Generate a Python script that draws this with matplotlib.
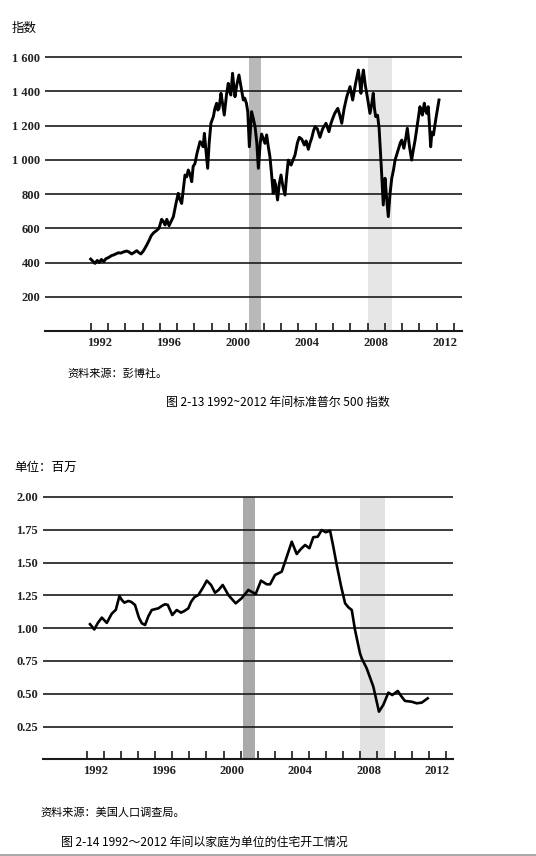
import matplotlib
matplotlib.use('Agg')
import matplotlib.pyplot as plt

CJK = ['Noto Sans CJK SC', 'DejaVu Sans']

# 图 2-13 标准普尔 500 指数
sp_years = [1992.0, 1992.12, 1992.25, 1992.38, 1992.5, 1992.62, 1992.75, 1992.88, 1993.05, 1993.2,
            1993.35, 1993.5, 1993.6, 1993.75, 1993.9, 1994.08, 1994.2, 1994.37, 1994.5, 1994.66,
            1994.78, 1994.9, 1995.05, 1995.24, 1995.38, 1995.5, 1995.65, 1995.8, 1995.95, 1996.1,
            1996.2, 1996.3, 1996.4, 1996.53, 1996.65, 1996.78, 1996.92, 1997.06, 1997.15, 1997.26,
            1997.45, 1997.55, 1997.64, 1997.74, 1997.84, 1997.92, 1998.03, 1998.15, 1998.32, 1998.42,
            1998.5, 1998.57, 1998.66, 1998.76, 1998.85, 1998.95, 1999.09, 1999.18, 1999.28, 1999.35,
            1999.42, 1999.53, 1999.62, 1999.72, 1999.85, 1999.95, 2000.03, 2000.1, 2000.2, 2000.27,
            2000.34, 2000.45, 2000.57, 2000.7, 2000.82, 2000.9, 2001.0, 2001.08, 2001.17, 2001.3,
            2001.4, 2001.5, 2001.6, 2001.69, 2001.8, 2001.88, 2001.95, 2002.07, 2002.17, 2002.26,
            2002.36, 2002.45, 2002.55, 2002.62, 2002.69, 2002.8, 2002.9, 2003.0, 2003.1, 2003.23,
            2003.32, 2003.42, 2003.5, 2003.58, 2003.7, 2003.81, 2003.95, 2004.06, 2004.2, 2004.35,
            2004.45, 2004.58, 2004.68, 2004.77, 2004.88, 2004.97, 2005.1, 2005.25, 2005.4, 2005.6,
            2005.77, 2005.88, 2005.97, 2006.1, 2006.28, 2006.4, 2006.51, 2006.65, 2006.8, 2006.99,
            2007.14, 2007.3, 2007.47, 2007.55, 2007.62, 2007.7, 2007.76, 2007.88, 2008.0, 2008.14,
            2008.25, 2008.33, 2008.4, 2008.47, 2008.58, 2008.67, 2008.8, 2008.91, 2009.01, 2009.1,
            2009.2, 2009.3, 2009.4, 2009.5, 2009.59, 2009.75, 2009.9, 2009.98, 2010.1, 2010.2,
            2010.3, 2010.42, 2010.55, 2010.65, 2010.75, 2010.9, 2011.03, 2011.1, 2011.17, 2011.28,
            2011.35, 2011.42, 2011.51, 2011.58, 2011.65, 2011.72, 2011.81, 2011.95, 2012.13]
sp_values = [420, 408, 395, 412, 400, 418, 405, 422, 430, 440,
             445, 452, 457, 455, 462, 467, 462, 450, 458, 469,
             458, 450, 468, 502, 530, 557, 575, 586, 600, 652,
             640, 619, 652, 615, 640, 668, 740, 804, 770, 745,
             911, 900, 940, 915, 872, 960, 979, 1040, 1106, 1095,
             1076, 1154, 1060, 950, 1100, 1213, 1252, 1300, 1330, 1290,
             1300, 1388, 1330, 1261, 1380, 1446, 1400, 1378, 1505, 1430,
             1368, 1440, 1495, 1420, 1349, 1360, 1330, 1280, 1076, 1281,
             1240, 1193, 1100, 950, 1100, 1150, 1130, 1096, 1145, 1080,
             1018, 920, 804, 880, 853, 765, 860, 911, 850, 794,
             900, 998, 980, 969, 1000, 1028, 1100, 1131, 1120, 1086,
             1110, 1061, 1100, 1125, 1170, 1193, 1180, 1131, 1180, 1213,
             1164, 1210, 1236, 1270, 1300, 1260, 1213, 1300, 1368, 1427,
             1349, 1440, 1524, 1460, 1388, 1480, 1524, 1430, 1360, 1271,
             1330, 1388, 1300, 1252, 1260, 1184, 950, 736, 892, 780,
             668, 800, 892, 940, 998, 1050, 1100, 1115, 1067, 1120,
             1184, 1080, 998, 1060, 1115, 1220, 1310, 1280, 1261, 1330,
             1290, 1271, 1310, 1200, 1076, 1160, 1145, 1240, 1349]

# 图 2-14 住宅开工 (百万)
hs_years = [1992.19, 1992.44, 1992.65, 1992.88, 1993.17, 1993.46, 1993.7, 1993.91, 1994.05, 1994.2,
            1994.43, 1994.6, 1994.82, 1995.05, 1995.22, 1995.41, 1995.6, 1995.8, 1996.0, 1996.19,
            1996.4, 1996.58, 1996.74, 1997.0, 1997.26, 1997.51, 1997.7, 1997.94, 1998.1, 1998.29,
            1998.53, 1998.8, 1999.02, 1999.27, 1999.5, 1999.7, 1999.95, 2000.28, 2000.5, 2000.71,
            2001.06, 2001.45, 2001.88, 2002.19, 2002.53, 2002.72, 2003.01, 2003.4, 2003.7, 2003.99,
            2004.28, 2004.5, 2004.77, 2005.02, 2005.25, 2005.51, 2005.74, 2005.98, 2006.23, 2006.42,
            2006.62, 2006.88, 2007.11, 2007.3, 2007.5, 2007.69, 2007.98, 2008.08, 2008.37, 2008.76,
            2009.09, 2009.34, 2009.64, 2009.87, 2010.19, 2010.4, 2010.61, 2011.0, 2011.3, 2011.59,
            2011.94]
hs_values = [1.03, 0.99, 1.04, 1.08, 1.04, 1.11, 1.14, 1.245, 1.215, 1.194,
             1.207, 1.20, 1.177, 1.08, 1.037, 1.024, 1.09, 1.138, 1.145, 1.151,
             1.17, 1.182, 1.177, 1.10, 1.138, 1.118, 1.13, 1.151, 1.20, 1.235,
             1.253, 1.31, 1.362, 1.329, 1.27, 1.29, 1.329, 1.253, 1.22, 1.189,
             1.228, 1.291, 1.26, 1.362, 1.334, 1.334, 1.405, 1.43, 1.545, 1.659,
             1.565, 1.60, 1.634, 1.609, 1.693, 1.697, 1.748, 1.731, 1.743, 1.62,
             1.481, 1.316, 1.189, 1.159, 1.138, 0.986, 0.808, 0.77, 0.694, 0.554,
             0.363, 0.414, 0.508, 0.49, 0.521, 0.48, 0.445, 0.439, 0.427, 0.432,
             0.465]

# 衰退期
recessions = [(2001.15, 2001.85), (2008.0, 2009.42)]

sp_ticks = [200, 400, 600, 800, 1000, 1200, 1400, 1600]
sp_ticklabels = ['200', '400', '600', '800', '1 000', '1 200', '1 400', '1 600']
hs_ticks = [0.25, 0.50, 0.75, 1.00, 1.25, 1.50, 1.75, 2.00]
hs_ticklabels = ['0.25', '0.50', '0.75', '1.00', '1.25', '1.50', '1.75', '2.00']
year_labels = ['1992', '1996', '2000', '2004', '2008', '2012']

W, H = 536, 856
fig = plt.figure(figsize=(W / 100, H / 100), dpi=100)


def px_axes(left, top, right, bottom):
    return fig.add_axes([left / W, 1 - bottom / H, (right - left) / W, (bottom - top) / H])


def px_text(x, y, s, size, ha='left'):
    fig.text(x / W, 1 - y / H, s, fontsize=size, ha=ha, va='center', family=CJK)


def style_axes(ax, ticks, ticklabels, top_val, band_colors):
    for (a, b), c in zip(recessions, band_colors):
        ax.fill_between([a, b], 0, top_val, color=c, lw=0, zorder=0)
    for t in ticks:
        ax.axhline(t, color='#1a1a1a', lw=1.2, zorder=1)
    for s in ['top', 'left', 'right']:
        ax.spines[s].set_visible(False)
    ax.spines['bottom'].set_linewidth(1.5)
    ax.spines['bottom'].set_color('#1a1a1a')
    ax.set_yticks(ticks)
    ax.set_yticklabels(ticklabels, family='Liberation Serif', fontweight='bold', fontsize=9)
    ax.tick_params(axis='y', length=0, pad=3.5, colors='#222222')
    ax.set_xticks(range(1992, 2014))
    ax.set_xticklabels([])
    ax.set_xticks([int(y) + 0.5 for y in year_labels], minor=True)
    ax.set_xticklabels(year_labels, minor=True, family='Liberation Serif',
                       fontweight='bold', fontsize=9)
    ax.tick_params(axis='x', which='major', direction='in', length=6, width=1.2, color='#1a1a1a')
    ax.tick_params(axis='x', which='minor', length=0, pad=4, labelcolor='#222222')
    ax.patch.set_alpha(0)


# 上图
ax1 = px_axes(45, 50, 462, 331)
ax1.plot(sp_years, sp_values, color='black', lw=2.1, zorder=3)
ax1.set_xlim(1989.36, 2013.46)
ax1.set_ylim(0, 1641)
style_axes(ax1, sp_ticks, sp_ticklabels, 1600, ['#b9b9b9', '#e6e6e6'])

# 下图
ax2 = px_axes(43, 490, 453, 759.3)
ax2.plot(hs_years, hs_values, color='black', lw=1.9, zorder=3)
ax2.set_xlim(1989.44, 2013.42)
ax2.set_ylim(0, 2.053)
style_axes(ax2, hs_ticks, hs_ticklabels, 2.0, ['#aaaaaa', '#e2e2e2'])

px_text(12, 28, '指数', 9)
px_text(67, 373, '资料来源：彭博社。', 8)
px_text(278, 402, '图 2-13 1992~2012 年间标准普尔 500 指数', 8.6, ha='center')

px_text(14, 467, '单位：百万', 9)
px_text(40, 813, '资料来源：美国人口调查局。', 8)
px_text(61, 842, '图 2-14 1992～2012 年间以家庭为单位的住宅开工情况', 8.6)

fig.add_artist(plt.Line2D([0, 1], [1 - 854.5 / H, 1 - 854.5 / H], color='#999999', lw=1.2))

fig.savefig('out.png', dpi=100)
